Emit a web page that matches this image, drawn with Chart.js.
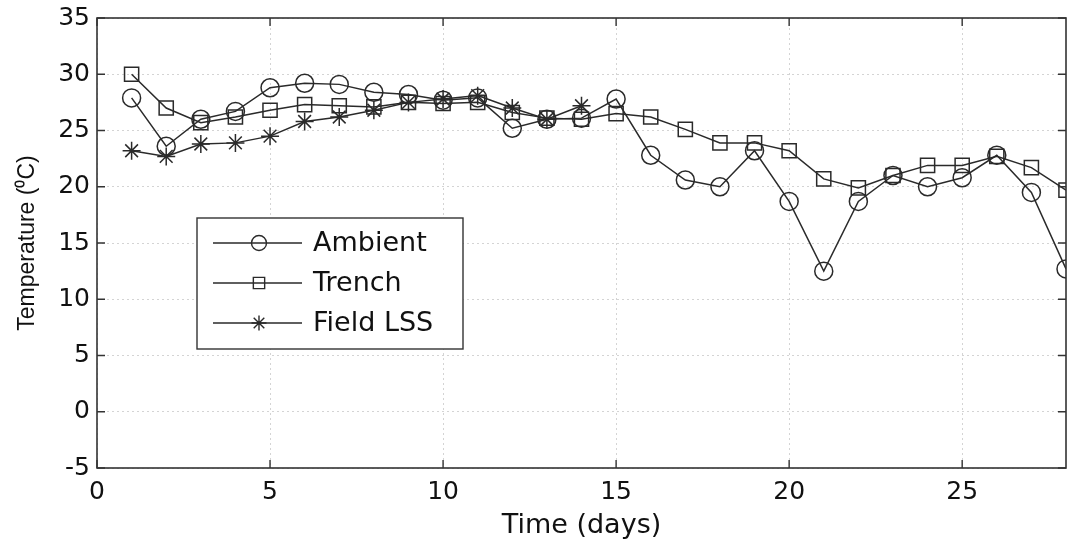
<!DOCTYPE html>
<html><head><meta charset="utf-8">
<script src="https://cdn.jsdelivr.net/npm/chart.js@4/dist/chart.umd.min.js"></script>
<style>html,body{margin:0;padding:0;background:#fff}#wrap{width:1070px;height:548px}</style>
</head><body><div id="wrap"><canvas id="c" width="1070" height="548"></canvas></div>
<script>
const days = [1,2,3,4,5,6,7,8,9,10,11,12,13,14,15,16,17,18,19,20,21,22,23,24,25,26,27,28];
const ambient = [27.9,23.6,26.0,26.7,28.8,29.2,29.1,28.4,28.2,27.7,27.9,25.2,26.0,26.1,27.8,22.8,20.6,20.0,23.2,18.7,12.5,18.7,21.0,20.0,20.8,22.8,19.5,12.7];
const trench = [30.0,27.0,25.7,26.2,26.8,27.3,27.2,27.1,27.5,27.4,27.5,26.6,26.1,26.0,26.5,26.2,25.1,23.9,23.9,23.2,20.7,19.9,21.0,21.9,21.9,22.7,21.7,19.7];
const fieldDays = [1,2,3,4,5,6,7,8,9,10,11,12,13,14];
const fieldLSS = [23.2,22.7,23.8,23.9,24.5,25.8,26.2,26.8,27.5,27.8,28.1,27.0,26.0,27.2];
const seriesNames = ['Ambient','Trench','Field LSS'];
const yTicks = [-5,0,5,10,15,20,25,30,35];
const xTicks = [0,5,10,15,20,25];

const LC = '#2a2a2a';
const WFONT = '"DejaVu Sans", sans-serif';
const FONT = '"Liberation Sans", Arial, sans-serif';
const toXY = (xs, ys) => xs.map((x,i)=>({x:x, y:ys[i]}));
const styles = ['circle','rect','star'];
const radii = [9,10,9];

const frame = {
  id:'frame',
  afterDraw(chart){
    const {ctx, chartArea:a, scales:{x,y}} = chart;
    ctx.save();
    ctx.strokeStyle = '#333'; ctx.lineWidth = 1.6;
    ctx.strokeRect(a.left, a.top, a.right-a.left, a.bottom-a.top);
    ctx.lineWidth = 1.4;
    const tl = 8;
    ctx.beginPath();
    xTicks.forEach(v=>{const px=x.getPixelForValue(v);
      ctx.moveTo(px,a.bottom);ctx.lineTo(px,a.bottom-tl);
      ctx.moveTo(px,a.top);ctx.lineTo(px,a.top+tl);});
    yTicks.forEach(v=>{const py=y.getPixelForValue(v);
      ctx.moveTo(a.left,py);ctx.lineTo(a.left+tl,py);
      ctx.moveTo(a.right,py);ctx.lineTo(a.right-tl,py);});
    ctx.stroke();
    // legend
    const lx=197, ly=218, lw=266, lh=131;
    ctx.fillStyle='#fff'; ctx.fillRect(lx,ly,lw,lh);
    ctx.strokeStyle='#333'; ctx.lineWidth=1.4; ctx.strokeRect(lx,ly,lw,lh);
    const rowsY=[243,283,323];
    seriesNames.forEach((n,i)=>{
      const cy = rowsY[i];
      ctx.strokeStyle=LC; ctx.lineWidth=1.4;
      ctx.beginPath(); ctx.moveTo(lx+16,cy); ctx.lineTo(lx+105,cy); ctx.stroke();
      ctx.fillStyle='rgba(0,0,0,0)';
      Chart.helpers.drawPoint(ctx,{pointStyle:styles[i],radius:i===1?8:7.5,borderWidth:1.4},lx+62,cy);
      ctx.fillStyle='#111'; ctx.font='27px '+WFONT; ctx.textBaseline='middle'; ctx.textAlign='left';
      ctx.fillText(n, lx+116, cy+1);
    });
    ctx.restore();
  }
};

const ds = (label, data, i) => ({
  label, data, borderColor:LC, borderWidth:1.5, backgroundColor:'rgba(0,0,0,0)',
  pointStyle:styles[i], pointRadius:radii[i], pointBorderColor:LC, pointBackgroundColor:'rgba(0,0,0,0)',
  pointBorderWidth:1.5, tension:0, fill:false
});

new Chart(document.getElementById('c'), {
  type:'line',
  data:{datasets:[ds(seriesNames[0],toXY(days,ambient),0), ds(seriesNames[1],toXY(days,trench),1), ds(seriesNames[2],toXY(fieldDays,fieldLSS),2)]},
  options:{
    responsive:false, animation:false, devicePixelRatio:1,
    layout:{padding:{top:18,right:4,left:0,bottom:0}, autoPadding:false},
    plugins:{legend:{display:false}, tooltip:{enabled:false}},
    scales:{
      x:{type:'linear', min:0, max:28,
        afterBuildTicks:s=>{s.ticks=xTicks.map(v=>({value:v}));},
        afterFit:s=>{s.height=80; s.paddingRight=0; s.paddingLeft=0;},
        border:{display:false, dash:[2,3]},
        grid:{color:'#d4d4d4', lineWidth:1, drawTicks:false},
        ticks:{color:'#111', font:{size:25, family:WFONT}, padding:9, maxRotation:0},
        title:{display:true, text:'Time (days)', color:'#111', font:{size:27, family:WFONT}, padding:{top:0,bottom:6}}
      },
      y:{type:'linear', min:-5, max:35,
        afterBuildTicks:s=>{s.ticks=yTicks.map(v=>({value:v}));},
        afterFit:s=>{s.width=97; s.paddingTop=0; s.paddingBottom=0;},
        border:{display:false, dash:[2,3]},
        grid:{color:'#d4d4d4', lineWidth:1, drawTicks:false},
        ticks:{color:'#111', font:{size:25, family:WFONT}, padding:7},
        title:{display:true, text:'Temperature (⁰C)', color:'#111', font:{size:23, family:FONT}, padding:{top:14,bottom:0}}
      }
    }
  },
  plugins:[frame]
});
</script></body></html>
